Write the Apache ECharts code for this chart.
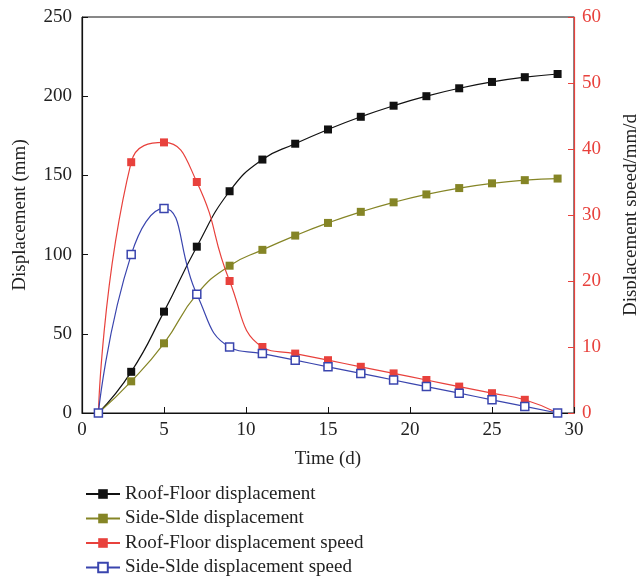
<!DOCTYPE html>
<html>
<head>
<meta charset="utf-8">
<script src="https://cdn.jsdelivr.net/npm/echarts@6/dist/echarts.min.js"></script>
<style>
  html, body { margin: 0; padding: 0; background: #fff; }
  #main { width: 636px; height: 578px; }
</style>
</head>
<body>
<div id="main"></div>
<script>
// time (d)
var days = [1, 3, 5, 7, 9, 11, 13, 15, 17, 19, 21, 23, 25, 27, 29];
// displacement (mm), left axis
var roofFloorDisp = [0, 26, 64, 105, 140, 160, 170, 179, 187, 194, 200, 205, 209, 212, 214];
var sideDisp = [0, 20, 44, 75, 93, 103, 112, 120, 127, 133, 138, 142, 145, 147, 148];
// displacement speed (mm/d), right axis
var roofFloorSpeed = [0, 38, 41, 35, 20, 10, 9, 8, 7, 6, 5, 4, 3, 2, 0];
var sideSpeed = [0, 24, 31, 18, 10, 9, 8, 7, 6, 5, 4, 3, 2, 1, 0];

var names = [
  'Roof-Floor displacement',
  'Side-Slde displacement',
  'Roof-Floor displacement speed',
  'Side-Slde displacement speed'
];

function pairs(ys) {
  return days.map(function (d, i) { return [d, ys[i]]; });
}

var font = 'Liberation Serif';
var chart = echarts.init(document.getElementById('main'), null, { renderer: 'canvas' });

// 线系列的公共配置
function lineSeries(name, data, color, yIndex, hollow) {
  return {
    name: name,
    type: 'line',
    yAxisIndex: yIndex,
    data: pairs(data),
    smooth: 0.5,
    symbol: 'rect',
    symbolSize: 8,
    lineStyle: { color: color, width: 1.2 },
    itemStyle: hollow
      ? { color: '#fff', borderColor: color, borderWidth: 1.5 }
      : { color: color },
    z: hollow ? 4 : 3
  };
}

var option = {
  backgroundColor: '#fff',
  animation: false,
  textStyle: { fontFamily: font },
  grid: {
    left: 82, right: 62, top: 17, bottom: 165,
    outerBoundsMode: 'none',
    containLabel: false,
    show: true, borderColor: '#111', borderWidth: 1
  },
  legend: {
    orient: 'vertical',
    left: 85,
    top: 484,
    padding: 0,
    height: 94,
    itemWidth: 34,
    itemHeight: 12,
    itemGap: 4.5,
    data: names,
    textStyle: { fontFamily: font, fontSize: 19, color: '#222', lineHeight: 20 }
  },
  xAxis: {
    type: 'value',
    min: 0, max: 30, interval: 5,
    name: 'Time (d)',
    nameLocation: 'middle',
    nameGap: 37,
    nameTextStyle: { fontFamily: font, fontSize: 19, color: '#222' },
    axisLine: { lineStyle: { color: '#111', width: 1.2 } },
    axisTick: { inside: true, length: 6, lineStyle: { color: '#111' } },
    axisLabel: { fontFamily: font, fontSize: 19, color: '#222', margin: 8 },
    splitLine: { show: false }
  },
  yAxis: [
    {
      type: 'value',
      min: 0, max: 250, interval: 50,
      name: 'Displacement (mm)',
      nameLocation: 'middle',
      nameRotate: 90,
      nameGap: 52,
      nameTextStyle: { fontFamily: font, fontSize: 19, color: '#222' },
      axisLine: { show: true, lineStyle: { color: '#111', width: 1.2 } },
      axisTick: { show: true, inside: true, length: 6, lineStyle: { color: '#111' } },
      axisLabel: { fontFamily: font, fontSize: 19, color: '#222', margin: 10 },
      splitLine: { show: false }
    },
    {
      type: 'value',
      position: 'right',
      min: 0, max: 60, interval: 10,
      name: 'Displacement speed/mm/d',
      nameLocation: 'middle',
      nameRotate: 90,
      nameGap: 48,
      nameTextStyle: { fontFamily: font, fontSize: 19, color: '#222' },
      axisLine: { show: true, lineStyle: { color: '#e8413c', width: 1.2 } },
      axisTick: { show: true, inside: true, length: 6, lineStyle: { color: '#e8413c' } },
      axisLabel: { fontFamily: font, fontSize: 19, color: '#e8413c', margin: 8 },
      splitLine: { show: false }
    }
  ],
  series: [
    lineSeries(names[0], roofFloorDisp, '#111111', 0, false),
    lineSeries(names[1], sideDisp, '#858526', 0, false),
    lineSeries(names[2], roofFloorSpeed, '#e8413c', 1, false),
    lineSeries(names[3], sideSpeed, '#3a45ae', 1, true)
  ]
};

chart.setOption(option);
</script>
</body>
</html>
